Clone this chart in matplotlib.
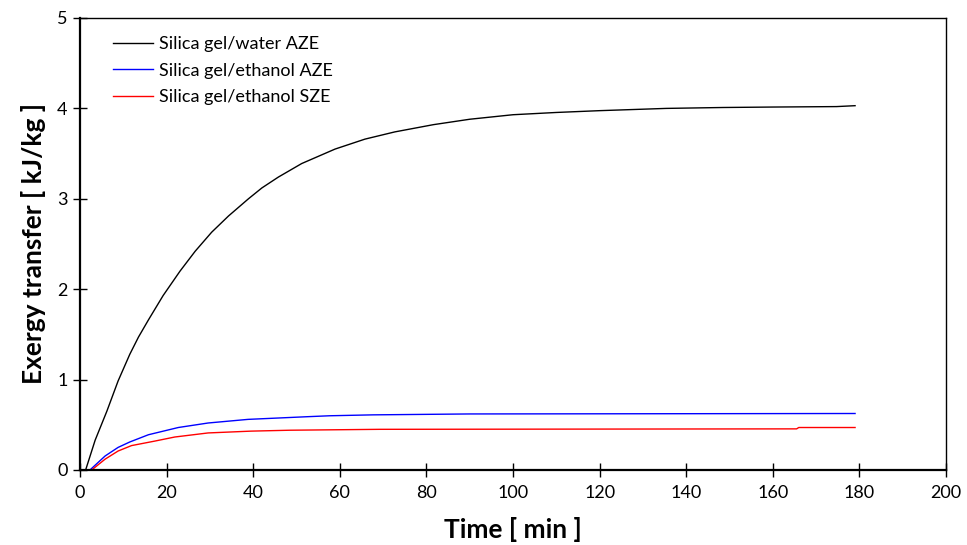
import matplotlib
matplotlib.use("Agg")
import matplotlib.pyplot as plt

plt.rcParams['font.family'] = ['Lato', 'DejaVu Sans']

# Silica gel/water AZE
t_water = [0, 1.3, 3.5, 6.2, 8.8, 11.5, 13.5, 15.8, 19.2, 23.1, 26.6, 30.4, 34.3, 38.9, 42, 45.8,
           51.2, 58.9, 65.8, 72.7, 81.6, 90, 100, 110, 120, 135.4, 148.5, 160, 174.7, 179]
e_water = [0, 0, 0.33, 0.65, 0.985, 1.28, 1.47, 1.66, 1.93, 2.20, 2.42, 2.63, 2.81, 3.00, 3.12, 3.24,
           3.39, 3.55, 3.66, 3.74, 3.82, 3.88, 3.93, 3.955, 3.975, 4.00, 4.01, 4.015, 4.02, 4.03]

# Silica gel/ethanol AZE
t_eth_aze = [0, 2.3, 5.8, 8.8, 11.5, 15.8, 22.7, 29.6, 38.8, 52.7, 57.7, 67.7, 90, 179]
e_eth_aze = [0, 0, 0.155, 0.25, 0.31, 0.39, 0.47, 0.52, 0.56, 0.59, 0.60, 0.61, 0.62, 0.625]

# Silica gel/ethanol SZE
t_eth_sze = [0, 2.7, 5.8, 8.8, 11.9, 17.3, 21.9, 29.6, 39.5, 48.5, 69.3, 165.5, 166, 179]
e_eth_sze = [0, 0, 0.12, 0.21, 0.27, 0.32, 0.365, 0.41, 0.43, 0.44, 0.45, 0.455, 0.47, 0.47]

labels = ["Silica gel/water AZE", "Silica gel/ethanol AZE", "Silica gel/ethanol SZE"]
colors = ["black", "#0000ff", "#ff0000"]

x_ticks = list(range(0, 201, 20))
y_ticks = [0, 1, 2, 3, 4, 5]

fig = plt.figure(figsize=(9.67, 5.45), dpi=100)
ax = fig.add_axes([80/967, 1-470/545, (946-80)/967, (470-18)/545])

ax.plot(t_water, e_water, color=colors[0], lw=1.0, label=labels[0])
ax.plot(t_eth_aze, e_eth_aze, color=colors[1], lw=1.0, label=labels[1])
ax.plot(t_eth_sze, e_eth_sze, color=colors[2], lw=1.0, label=labels[2])

ax.set_xlim(0, 200)
ax.set_ylim(0, 5)
ax.set_xticks(x_ticks)
ax.set_yticks(y_ticks)
ax.tick_params(axis='x', direction='inout', length=10, width=1, labelsize=13, pad=6)
ax.tick_params(axis='y', direction='inout', length=10, width=1, labelsize=13, pad=4)
for s in ax.spines.values():
    s.set_linewidth(1.0)
ax.spines['bottom'].set_linewidth(1.6)
ax.spines['left'].set_linewidth(1.6)

ax.set_xlabel("Time [ min ]", fontsize=19, fontweight='bold', labelpad=11)
ax.set_ylabel("Exergy transfer [ kJ/kg ]", fontsize=19, fontweight='bold', labelpad=8)

leg = ax.legend(loc='upper left', bbox_to_anchor=(0.0194, 0.996), frameon=False,
                fontsize=13, handlelength=2.2, handletextpad=0.33, labelspacing=0.59)

fig.savefig("out.png", dpi=100)
